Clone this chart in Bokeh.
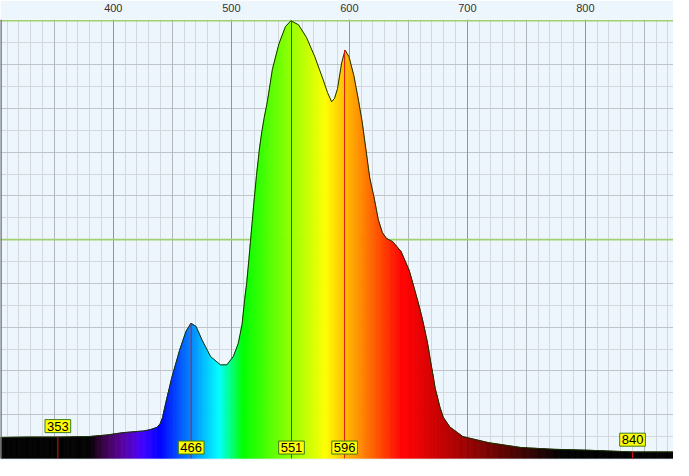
import math
from bokeh.plotting import figure
from bokeh.models import Range1d, FixedTicker, SingleIntervalTicker, Grid, Span, Label
from bokeh.embed import file_html
from bokeh.resources import INLINE

# ---- data ----
wavelength = [304.4, 329.2, 354.1, 378.9, 395.4, 407.9, 425.8, 431.3, 436.8, 439.6,
              441.8, 443.5, 449.3, 456.1, 461.7, 465.8, 470.0, 475.5, 482.4, 490.7,
              496.2, 501.7, 505.8, 509.1, 511.3, 513.0, 514.7, 516.7, 518.8, 521.3,
              523.8, 525.8, 527.9, 530.6, 534.8, 540.3, 545.9, 550.5, 556.9, 563.7,
              570.7, 577.6, 581.5, 585.0, 587.5, 590.0, 593.5, 596.4, 599.7, 603.8,
              607.9, 610.7, 614.0, 617.3, 620.9, 624.5, 628.0, 631.4, 636.9, 643.8,
              650.7, 657.6, 661.8, 665.9, 670.0, 672.8, 676.9, 679.6, 685.2, 696.2,
              718.3, 745.6, 773.5, 801.1, 840.0, 874.7]
intensity = [4.8, 4.9, 4.9, 5.0, 5.4, 5.9, 6.3, 6.6, 7.1, 7.9,
             9.4, 11.6, 18.2, 24.7, 29.1, 30.9, 30.2, 26.9, 23.3, 21.4,
             21.4, 23.3, 26.2, 30.6, 36.3, 40.0, 44.9, 51.0, 57.5, 64.6,
             70.7, 74.6, 77.9, 81.6, 88.9, 94.7, 98.7, 100.0, 99.1, 96.2,
             91.8, 86.7, 83.6, 81.5, 82.3, 84.5, 90.4, 93.3, 91.8, 87.5,
             81.6, 77.2, 70.7, 64.1, 59.7, 54.6, 51.6, 50.3, 49.5, 47.3,
             43.0, 36.4, 32.0, 26.9, 20.4, 16.0, 11.6, 9.4, 7.2, 5.0,
             3.6, 2.5, 2.1, 1.9, 1.5, 1.5]
marker_nm = [353, 466, 551, 596, 840]
marker_level = [5.0, 30.9, 100.0, 93.3, 1.5]
tick_labels = [400, 500, 600, 700, 800]

# label vertical placement (style)
label_y = [7.4, 2.5, 2.5, 2.5, 4.3]

BG = "#eef6fd"


def spectral(l):
    if l < 440:
        r, g, b = (440 - l) / 60.0, 0.0, 1.0
    elif l < 490:
        r, g, b = 0.0, (l - 440) / 50.0, 1.0
    elif l < 510:
        r, g, b = 0.0, 1.0, (510 - l) / 20.0
    elif l < 580:
        r, g, b = (l - 510) / 70.0, 1.0, 0.0
    elif l < 645:
        r, g, b = 1.0, (645 - l) / 65.0, 0.0
    else:
        r, g, b = 1.0, 0.0, 0.0
    if l < 380:
        f = 0.0
    elif l < 425:
        f = (l - 380) / 45.0
    elif l <= 648:
        f = 1.0
    elif l < 780:
        f = (780 - l) / 132.0
    else:
        f = 0.0
    r, g, b = [max(0.0, min(1.0, c)) * f for c in (r, g, b)]
    return "#%02x%02x%02x" % (int(round(r * 255)), int(round(g * 255)), int(round(b * 255)))


p = figure(width=673, height=460, output_backend="svg", toolbar_location=None,
           x_range=Range1d(wavelength[0], wavelength[-1]), y_range=Range1d(0, 100.3),
           x_axis_location="above", y_axis_location=None,
           background_fill_color=BG, border_fill_color=BG,
           min_border=0, min_border_bottom=2)
p.outline_line_color = None

ax = p.xaxis[0]
ax.ticker = FixedTicker(ticks=tick_labels)
ax.axis_line_color = None
ax.major_tick_line_color = None
ax.minor_tick_line_color = None
ax.major_label_text_font = "Liberation Sans"
ax.major_label_text_font_size = "11px"
ax.major_label_text_color = "#333333"
ax.major_label_standoff = 2
p.xgrid.visible = False

# grids
g_minor_x = Grid(dimension=0, ticker=SingleIntervalTicker(interval=10),
                 grid_line_color="#d4d8dd", grid_line_width=1)
g_50_x = Grid(dimension=0, ticker=SingleIntervalTicker(interval=50),
              grid_line_color="#b2b6bd", grid_line_width=1)
g_100_x = Grid(dimension=0, ticker=SingleIntervalTicker(interval=100),
               grid_line_color="#90949b", grid_line_width=1)
g_5_y = Grid(dimension=1, ticker=SingleIntervalTicker(interval=5),
             grid_line_color="#d4d8dd", grid_line_width=1)
g_10_y = Grid(dimension=1, ticker=SingleIntervalTicker(interval=10),
              grid_line_color="#c0c4ca", grid_line_width=1)
for g in (g_minor_x, g_5_y, g_10_y, g_50_x, g_100_x):
    p.add_layout(g, "center")

for lvl in (50, 100):
    p.add_layout(Span(location=lvl, dimension="width", line_color="#9fcf6e",
                      line_width=1.6, level="underlay"))

# gradient fill under the spectrum, thin slices along each segment
xs, ys, cols = [], [], []
for i in range(len(wavelength) - 1):
    l0, l1 = wavelength[i], wavelength[i + 1]
    v0, v1 = intensity[i], intensity[i + 1]
    n = max(1, int(math.ceil((l1 - l0) / 0.8)))
    for k in range(n):
        a = l0 + (l1 - l0) * k / n
        b = l0 + (l1 - l0) * (k + 1) / n
        va = v0 + (v1 - v0) * k / n
        vb = v0 + (v1 - v0) * (k + 1) / n
        xs.append([a, a, b, b])
        ys.append([0, va, vb, 0])
        cols.append(spectral((a + b) / 2))
p.patches(xs, ys, fill_color=cols, line_color=cols, line_width=0.7)

# outline of the spectrum
p.line(wavelength, intensity, line_color="#1c3300", line_width=1)

# marker lines
p.segment(x0=marker_nm, y0=[0] * len(marker_nm), x1=marker_nm, y1=marker_level,
          line_color="#dd1111", line_width=1)

# left frame edge
p.add_layout(Span(location=wavelength[0], dimension="height", line_color="#6a6e74",
                  line_width=2.5))

for nm, ly in zip(marker_nm, label_y):
    p.add_layout(Label(x=nm, y=ly, text=str(nm), text_align="center",
                       text_baseline="middle", text_font="Liberation Sans",
                       text_font_size="13px", text_color="#000000",
                       background_fill_color="#ffff00", border_line_color="#3c7a1c",
                       border_line_width=1, padding=2))

open("out.html", "w").write(file_html(p, INLINE))
